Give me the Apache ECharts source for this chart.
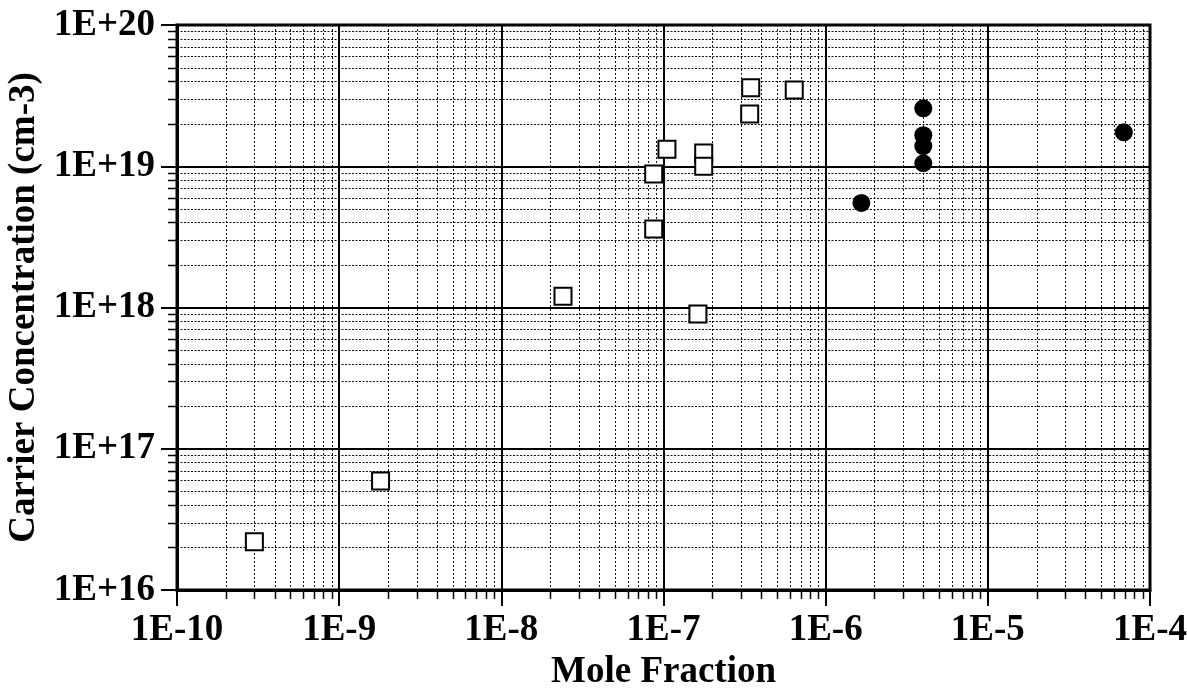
<!DOCTYPE html>
<html>
<head>
<meta charset="utf-8">
<script src="https://cdn.jsdelivr.net/npm/echarts@6/dist/echarts.min.js"></script>
<style>
html,body{margin:0;padding:0;background:#fff;}
#chart{width:1187px;height:690px;}
</style>
</head>
<body>
<div id="chart"></div>
<script>
// ---- data ----
const xExponents = [-10, -9, -8, -7, -6, -5, -4];
const xTickLabels = ['1E-10', '1E-9', '1E-8', '1E-7', '1E-6', '1E-5', '1E-4'];
const yExponents = [16, 17, 18, 19, 20];
const yTickLabels = ['1E+16', '1E+17', '1E+18', '1E+19', '1E+20'];
const minorMultipliers = [2, 3, 4, 5, 6, 7, 8, 9];

const squareX = [3.0e-10, 1.8e-9, 2.4e-8, 8.7e-8, 8.7e-8, 1.05e-7, 1.63e-7, 1.77e-7, 1.77e-7, 3.4e-7, 3.45e-7, 6.4e-7];
const squareY = [2.2e16, 5.9e16, 1.2e18, 8.8e18, 3.6e18, 1.32e19, 9.0e17, 1.24e19, 1.0e19, 2.34e19, 3.6e19, 3.47e19];
const circleX = [1.66e-6, 4.0e-6, 4.0e-6, 4.0e-6, 4.0e-6, 6.9e-5];
const circleY = [5.5e18, 2.57e19, 1.66e19, 1.39e19, 1.05e19, 1.74e19];

const xTitle = 'Mole Fraction';
const yTitle = 'Carrier Concentration (cm-3)';

// ---- chart ----
const FONT = '"Liberation Serif", "Times New Roman", serif';
const xMin = Math.pow(10, xExponents[0]);
const xMax = Math.pow(10, xExponents[xExponents.length - 1]);
const yMin = Math.pow(10, yExponents[0]);
const yMax = Math.pow(10, yExponents[yExponents.length - 1]);

function labelFor(v, exps, labels) {
  const e = Math.round(Math.log10(v));
  const i = exps.indexOf(e);
  return i >= 0 ? labels[i] : '';
}

function minorRender(params, api) {
  if (params.dataIndex !== 0) return;
  const children = [];
  const yTop = api.coord([xMin, yMax])[1];
  const yBot = api.coord([xMin, yMin])[1];
  const xL = api.coord([xMin, yMin])[0];
  const xR = api.coord([xMax, yMin])[0];
  for (let k = 0; k < xExponents.length - 1; k++) {
    for (const m of minorMultipliers) {
      const v = m * Math.pow(10, xExponents[k]);
      const px = Math.round(api.coord([v, yMin])[0]) + 0.5;
      children.push({type: 'line', shape: {x1: px, y1: yTop, x2: px, y2: yBot},
        style: {stroke: '#111', lineWidth: 1, lineDash: [2, 2]}});
      children.push({type: 'line', shape: {x1: px, y1: yBot, x2: px, y2: yBot + 9},
        style: {stroke: '#000', lineWidth: 1.5}});
    }
  }
  for (let k = 0; k < yExponents.length - 1; k++) {
    for (const m of minorMultipliers) {
      const v = m * Math.pow(10, yExponents[k]);
      const py = Math.round(api.coord([xMin, v])[1]) + 0.5;
      children.push({type: 'line', shape: {x1: xL, y1: py, x2: xR, y2: py},
        style: {stroke: '#111', lineWidth: 1, lineDash: [2, 1.5]}});
      children.push({type: 'line', shape: {x1: xL - 9, y1: py, x2: xL, y2: py},
        style: {stroke: '#000', lineWidth: 1.5}});
    }
  }
  return {type: 'group', children: children};
}

const chart = echarts.init(document.getElementById('chart'), null, {renderer: 'canvas'});
chart.setOption({
  animation: false,
  backgroundColor: '#fff',
  grid: {left: 177, right: 37, top: 25, bottom: 100, containLabel: false, outerBoundsMode: 'none',
    show: true, borderColor: '#000', borderWidth: 3, backgroundColor: 'transparent'},
  xAxis: {
    type: 'log', logBase: 10, min: xMin, max: xMax, interval: 1,
    name: xTitle, nameLocation: 'middle', nameGap: 62,
    nameTextStyle: {fontFamily: FONT, fontWeight: 'bold', fontSize: 37, color: '#000'},
    axisLine: {show: true, lineStyle: {color: '#000', width: 3}},
    axisTick: {show: true, inside: false, length: 16, lineStyle: {color: '#000', width: 2}},
    axisLabel: {margin: 22, fontFamily: FONT, fontWeight: 'bold', fontSize: 37, color: '#000',
      formatter: v => labelFor(v, xExponents, xTickLabels)},
    splitLine: {show: true, lineStyle: {color: '#000', width: 2}},
    minorTick: {show: false}, minorSplitLine: {show: false}
  },
  yAxis: {
    type: 'log', logBase: 10, min: yMin, max: yMax, interval: 1,
    name: yTitle, nameLocation: 'middle', nameGap: 130, nameRotate: 90,
    nameTextStyle: {fontFamily: FONT, fontWeight: 'bold', fontSize: 37, color: '#000'},
    axisLine: {show: true, lineStyle: {color: '#000', width: 3}},
    axisTick: {show: true, inside: false, length: 16, lineStyle: {color: '#000', width: 2}},
    axisLabel: {margin: 22, fontFamily: FONT, fontWeight: 'bold', fontSize: 37, color: '#000',
      formatter: v => labelFor(v, yExponents, yTickLabels)},
    splitLine: {show: true, lineStyle: {color: '#000', width: 2}},
    minorTick: {show: false}, minorSplitLine: {show: false}
  },
  series: [
    {
      type: 'custom', coordinateSystem: 'cartesian2d', renderItem: minorRender,
      data: [[1e-7, 1e18]], clip: false, silent: true, z: 1
    },
    {
      type: 'scatter', symbol: 'rect', symbolSize: 17, z: 5,
      itemStyle: {color: '#fff', borderColor: '#000', borderWidth: 2, opacity: 1},
      data: squareX.map((x, i) => [x, squareY[i]])
    },
    {
      type: 'scatter', symbol: 'circle', symbolSize: 18, z: 6,
      itemStyle: {color: '#000', opacity: 1},
      data: circleX.map((x, i) => [x, circleY[i]])
    }
  ]
});
</script>
</body>
</html>
